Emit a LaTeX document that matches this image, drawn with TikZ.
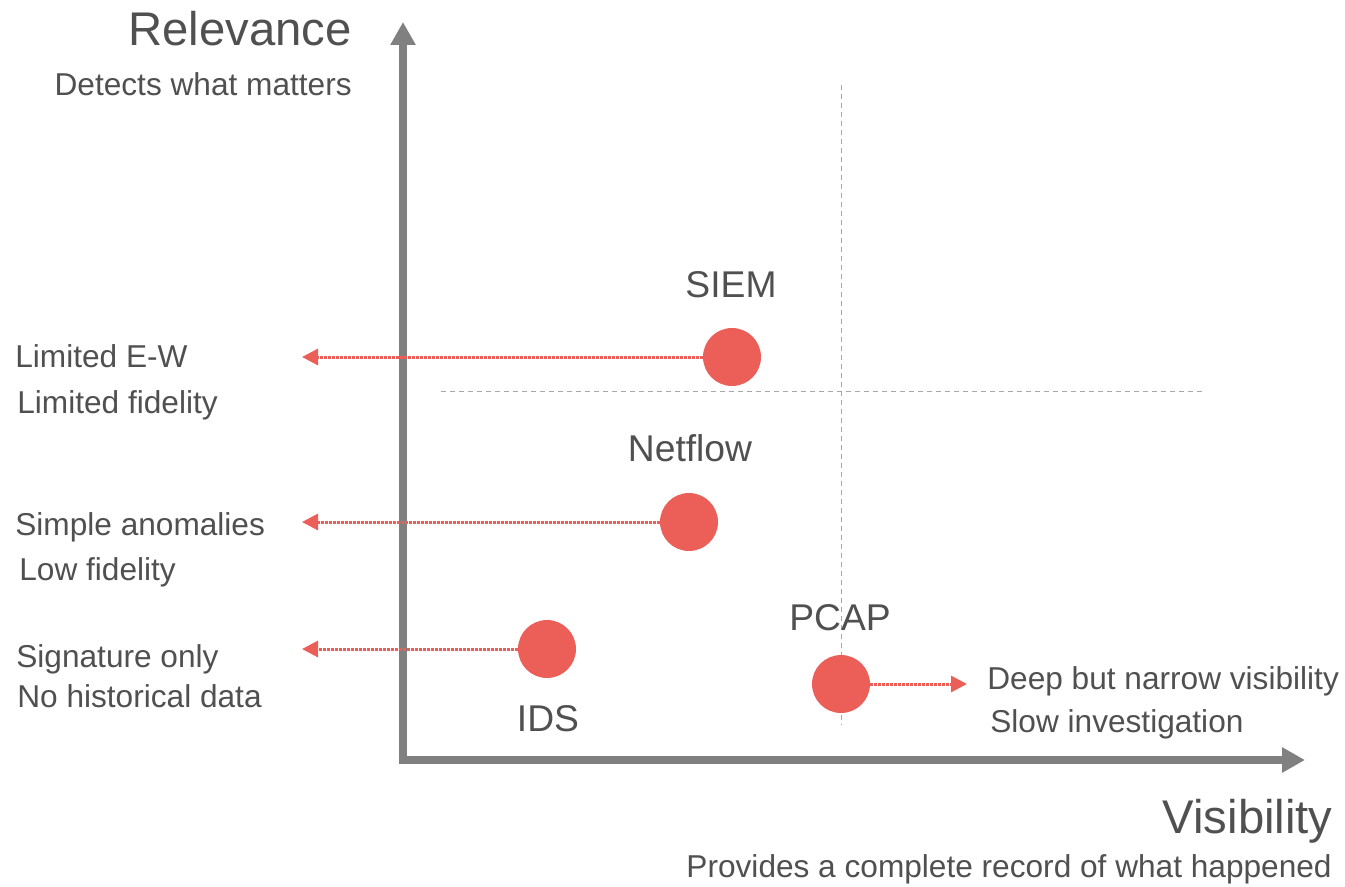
\documentclass[tikz,border=0pt]{standalone}
\usepackage{fontspec}
\setmainfont{Liberation Sans}
\usepackage{xcolor}
\usetikzlibrary{arrows.meta}

\definecolor{inkgrey}{HTML}{505050}
\definecolor{axisgrey}{HTML}{808080}
\definecolor{gridgrey}{HTML}{A8A8A8}
\definecolor{dotred}{HTML}{EC5F59}

\begin{document}
\begin{tikzpicture}[
        x=0.02cm, y=-0.02cm,
        axis/.style={draw=axisgrey, line width=0.16cm, line join=miter, {Triangle[length=0.46cm, width=0.48cm]}-{Triangle[length=0.46cm, width=0.48cm]}},
        split/.style={draw=gridgrey, line width=0.02cm, dash pattern=on 0.1cm off 0.08cm},
        dot/.style={circle, fill=dotred, minimum size=1.16cm, inner sep=0pt},
        flow/.style={draw=dotred, line width=0.06cm, dash pattern=on 0.045cm off 0.035cm, -{Triangle[length=0.32cm, width=0.32cm]}},
        title/.style={inner sep=0pt, text=inkgrey, font=\fontsize{26.9}{30}\selectfont},
        tag/.style={inner sep=0pt, text=inkgrey, anchor=base, font=\fontsize{21.2}{25}\selectfont},
        note/.style={inner sep=0pt, text=inkgrey, font=\fontsize{18}{21}\selectfont}
        ]
        \useasboundingbox (0,0) rectangle (1345,886);

        % axes
        \coordinate (yTip) at (403,22);
        \coordinate (origin) at (403,760);
        \coordinate (xTip) at (1305,760);
        \draw[axis] (yTip) -- (origin) -- (xTip);

        \node[title, anchor=base east] (relevance) at (352,45) {Relevance};
        \node[note, anchor=base east] (relevanceSub) at (352,95) {Detects what matters};
        \node[title, anchor=base east] (visibility) at (1333,833) {Visibility};
        \node[note, anchor=base east] (visibilitySub) at (1332,877) {Provides a complete record of what happened};

        % quadrant split
        \coordinate (vTop) at (841,85);
        \coordinate (vBot) at (841,725);
        \coordinate (hLeft) at (441,391);
        \coordinate (hRight) at (1203,391);
        \draw[split] (vTop) -- (vBot);
        \draw[split] (hLeft) -- (hRight);

        % tools
        \node[dot] (siem) at (732,357) {};
        \node[dot] (netflow) at (689,522) {};
        \node[dot] (ids) at (547,649) {};
        \node[dot] (pcap) at (841,684) {};

        \node[tag] (siemLbl) at (731,297) {SIEM};
        \node[tag] (netflowLbl) at (690,461) {Netflow};
        \node[tag] (pcapLbl) at (840,630) {PCAP};
        \node[tag] (idsLbl) at (548,731) {IDS};

        % limits
        \coordinate (siemEnd) at (302,357);
        \coordinate (netflowEnd) at (302,522);
        \coordinate (idsEnd) at (302,649);
        \coordinate (pcapEnd) at (967,684);
        \draw[flow] (siem) -- (siemEnd);
        \draw[flow] (netflow) -- (netflowEnd);
        \draw[flow] (ids) -- (idsEnd);
        \draw[flow] (pcap) -- (pcapEnd);

        \node[note, anchor=base west] (siemNoteA) at (15,367) {Limited E-W};
        \node[note, anchor=base west] (siemNoteB) at (17,413) {Limited fidelity};
        \node[note, anchor=base west] (netflowNoteA) at (15,535) {Simple anomalies};
        \node[note, anchor=base west] (netflowNoteB) at (19,580) {Low fidelity};
        \node[note, anchor=base west] (idsNoteA) at (16,667) {Signature only};
        \node[note, anchor=base west] (idsNoteB) at (17,707) {No historical data};
        \node[note, anchor=base west] (pcapNoteA) at (987,689) {Deep but narrow visibility};
        \node[note, anchor=base west] (pcapNoteB) at (990,732) {Slow investigation};
    \end{tikzpicture}
\end{document}
